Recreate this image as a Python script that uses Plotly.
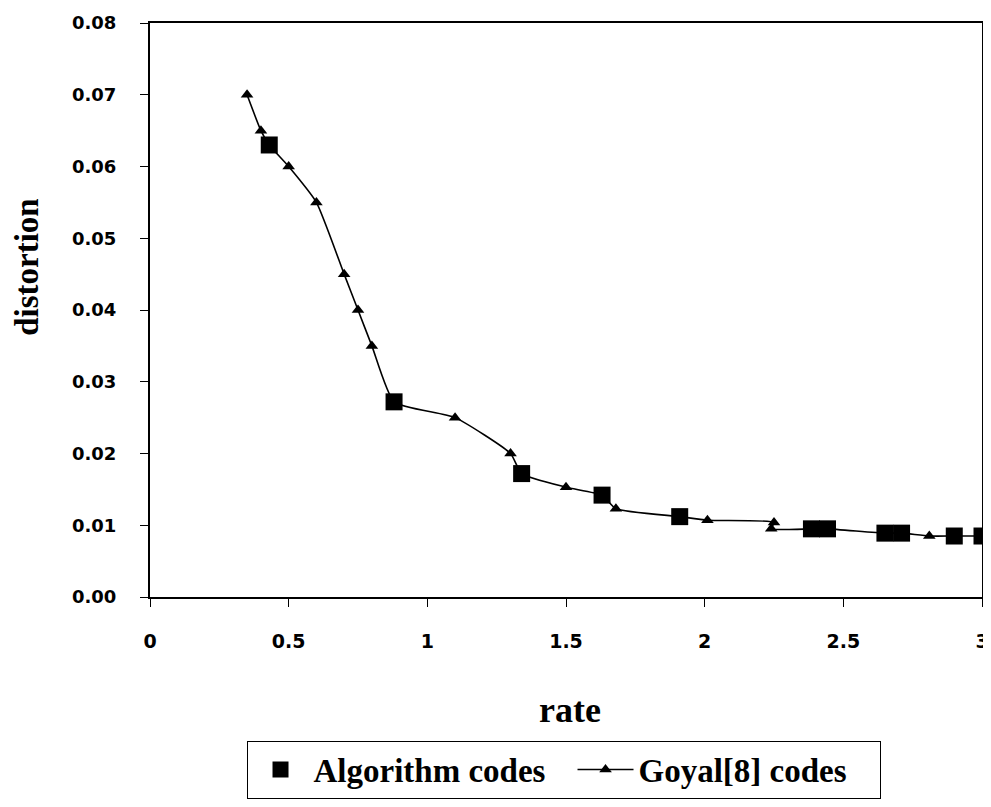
import plotly.graph_objects as go

# Algorithm codes (squares)
alg_rate = [0.43, 0.88, 1.34, 1.63, 1.91, 2.385, 2.443, 2.65, 2.71, 2.90, 3.00]
alg_dist = [0.063, 0.0272, 0.0172, 0.0142, 0.0112, 0.0095, 0.0095, 0.0089, 0.0089, 0.0085, 0.0085]

# Goyal[8] codes (line with triangles)
goyal_rate = [0.35, 0.40, 0.43, 0.50, 0.60, 0.70, 0.75, 0.80, 0.88, 1.10, 1.30, 1.34,
              1.50, 1.63, 1.68, 1.91, 2.01, 2.25, 2.24, 2.385, 2.443, 2.65, 2.71, 2.81, 2.90, 3.00]
goyal_dist = [0.070, 0.065, 0.063, 0.060, 0.055, 0.045, 0.040, 0.035, 0.0272, 0.025, 0.020, 0.0172,
              0.0153, 0.0142, 0.0123, 0.0112, 0.0107, 0.0104, 0.0095, 0.0095, 0.0095, 0.0089, 0.0089, 0.0085, 0.0085, 0.0085]

x_ticks = [0, 0.5, 1, 1.5, 2, 2.5, 3]
x_labels = ["0", "0.5", "1", "1.5", "2", "2.5", "3"]
y_ticks = [0, 0.01, 0.02, 0.03, 0.04, 0.05, 0.06, 0.07, 0.08]
y_labels = ["0.00", "0.01", "0.02", "0.03", "0.04", "0.05", "0.06", "0.07", "0.08"]

x_title = "rate"
y_title = "distortion"

fig = go.Figure()
fig.add_trace(go.Scatter(
    x=goyal_rate, y=goyal_dist, mode="lines+markers", name="Goyal[8] codes",
    line=dict(color="black", width=1.6, shape="spline", smoothing=0.5),
    marker=dict(symbol="triangle-up", size=11, color="black"),
    cliponaxis=False, legendwidth=236,
))
fig.add_trace(go.Scatter(
    x=alg_rate, y=alg_dist, mode="markers", name="Algorithm codes",
    marker=dict(symbol="square", size=17, color="black"),
    cliponaxis=False, legendwidth=254,
))

# page body has an 8px margin; figure is sized so the plot lands where the reference has it
fig.update_layout(
    width=983, height=799,
    margin=dict(l=142, r=9, t=15, b=208),
    paper_bgcolor="white", plot_bgcolor="white",
    showlegend=True,
    legend=dict(
        orientation="h", traceorder="reversed",
        x=0.116, xanchor="left", y=-0.25, yanchor="top",
        bordercolor="black", borderwidth=1,
        font=dict(family="Liberation Serif", size=33, color="black", weight="bold"),
        itemwidth=56,
    ),
    xaxis=dict(
        range=[0, 3], tickvals=x_ticks, ticktext=x_labels,
        showgrid=False, zeroline=False, automargin=False,
        showline=True, linecolor="black", linewidth=2, mirror=True,
        ticks="outside", ticklen=8, tickcolor="black", tickwidth=1,
        ticklabelstandoff=18,
        tickfont=dict(family="DejaVu Sans", size=19, color="black", weight="bold"),
    ),
    yaxis=dict(
        range=[0, 0.08], tickvals=y_ticks, ticktext=y_labels,
        showgrid=False, zeroline=False, automargin=False,
        showline=True, linecolor="black", linewidth=2, mirror=True,
        ticks="outside", ticklen=8, tickcolor="black", tickwidth=1,
        ticklabelstandoff=20,
        tickfont=dict(family="DejaVu Sans", size=18, color="black", weight="bold"),
    ),
    annotations=[
        dict(text=x_title, xref="paper", yref="paper", x=0.505, y=-0.196,
             xanchor="center", yanchor="middle", showarrow=False,
             font=dict(family="Liberation Serif", size=36, color="black", weight="bold")),
        dict(text=y_title, xref="paper", yref="paper", x=-0.148, y=0.575,
             xanchor="center", yanchor="middle", showarrow=False, textangle=-90,
             font=dict(family="Liberation Serif", size=33, color="black", weight="bold")),
    ],
)

fig.write_html("out.html")
